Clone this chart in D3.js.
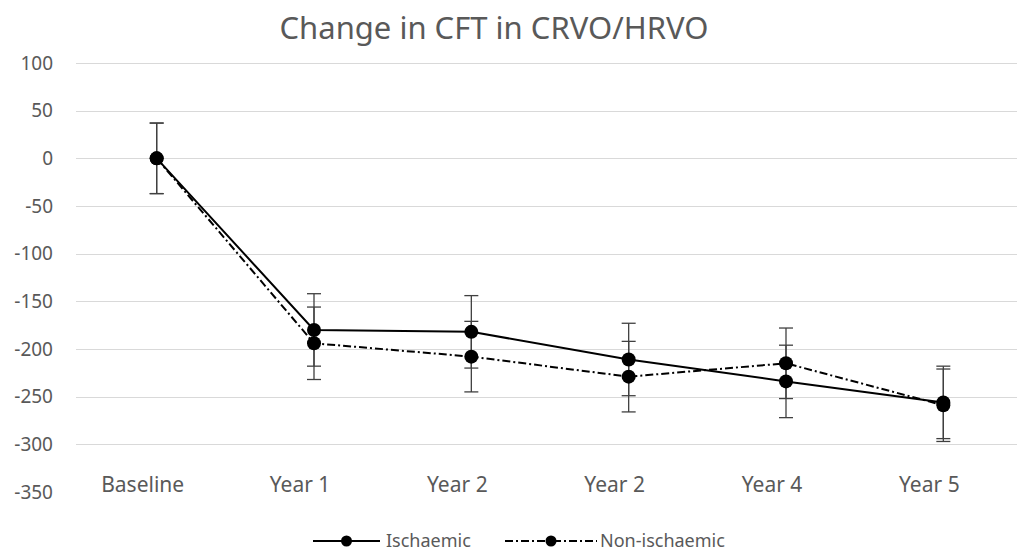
<!DOCTYPE html>
<meta charset="utf-8">
<style>
body { margin: 0; background: #fff; }
svg text { font-family: "Noto Sans", "Open Sans", sans-serif; fill: #595959; }
.grid line { stroke: #d9d9d9; stroke-width: 1; shape-rendering: crispEdges; }
</style>
<body>
<script src="https://cdn.jsdelivr.net/npm/d3@7/dist/d3.min.js"></script>
<script>

// categories and values
var categories = ["Baseline", "Year 1", "Year 2", "Year 2", "Year 4", "Year 5"];
var ischaemic = [0, -180, -182, -211, -234, -256];
var ischaemicErr = [37, 38, 38, 38, 38, 38];
var nonIschaemic = [0, -194, -208, -229, -215, -259];
var nonIschaemicErr = [37, 38, 37, 37, 37, 38];
var yTicks = [100, 50, 0, -50, -100, -150, -200, -250, -300, -350];

var width = 1017, height = 555;

var svg = d3.select("body").append("svg")
    .attr("width", width)
    .attr("height", height);

var x = d3.scaleBand()
    .domain(d3.range(categories.length))
    .range([78, 1022]);

var y = d3.scaleLinear()
    .domain([-350, 100])
    .range([492, 63]);

var cx = function(i) { return x(i) + x.bandwidth() / 2; };

// title
svg.append("text")
    .attr("x", 494)
    .attr("y", 39)
    .attr("text-anchor", "middle")
    .style("font-size", "31px")
    .text("Change in CFT in CRVO/HRVO");

// gridlines (none at the bottom value)
svg.append("g")
    .attr("class", "grid")
  .selectAll("line")
    .data(yTicks.filter(function(d) { return d > -350; }))
  .enter().append("line")
    .attr("x1", 76)
    .attr("x2", width)
    .attr("y1", function(d) { return Math.round(y(d)) + 0.5; })
    .attr("y2", function(d) { return Math.round(y(d)) + 0.5; });

// y axis labels, plain hyphen for negatives
var yAxis = d3.axisLeft(y)
    .tickValues(yTicks)
    .tickFormat(function(d) { return String(d); })
    .tickSize(0)
    .tickPadding(0);

var gy = svg.append("g")
    .attr("transform", "translate(53,0)")
    .call(yAxis);
gy.select(".domain").remove();
gy.selectAll("text")
    .style("font-size", "19px")
    .style("font-family", null)
    .attr("fill", null);

// x axis labels (sit a little left of the points in the original)
var xAxis = d3.axisBottom(x)
    .tickFormat(function(i) { return categories[i]; })
    .tickSize(0)
    .tickPadding(0);

var gx = svg.append("g")
    .attr("transform", "translate(-14,477)")
    .call(xAxis);
gx.select(".domain").remove();
gx.selectAll("text")
    .style("font-size", "21px")
    .style("font-family", null)
    .attr("fill", null);

var series = [
  {name: "Ischaemic", values: ischaemic, err: ischaemicErr, dash: null},
  {name: "Non-ischaemic", values: nonIschaemic, err: nonIschaemicErr, dash: "8,3,2,3"}
];

var line = d3.line()
    .x(function(d, i) { return cx(i); })
    .y(function(d) { return y(d); });

// error bars
series.forEach(function(s) {
  var g = svg.append("g")
      .attr("stroke", "#404040")
      .attr("stroke-width", 1.3);
  s.values.forEach(function(v, i) {
    var top = y(v + s.err[i]), bot = y(v - s.err[i]);
    g.append("line").attr("x1", cx(i)).attr("x2", cx(i)).attr("y1", top).attr("y2", bot);
    g.append("line").attr("x1", cx(i) - 7).attr("x2", cx(i) + 7).attr("y1", top).attr("y2", top);
    g.append("line").attr("x1", cx(i) - 7).attr("x2", cx(i) + 7).attr("y1", bot).attr("y2", bot);
  });
});

// lines and markers
series.forEach(function(s) {
  svg.append("path")
      .datum(s.values)
      .attr("fill", "none")
      .attr("stroke", "#000")
      .attr("stroke-width", 2)
      .attr("stroke-dasharray", s.dash)
      .attr("d", line);

  svg.append("g").selectAll("circle")
      .data(s.values)
    .enter().append("circle")
      .attr("cx", function(d, i) { return cx(i); })
      .attr("cy", function(d) { return y(d); })
      .attr("r", 7)
      .attr("fill", "#000");
});

// legend
var legendItems = [
  {name: "Ischaemic", dash: null, x1: 313, x2: 380, text: 386},
  {name: "Non-ischaemic", dash: "8,3,2,3", x1: 505, x2: 597, text: 600}
];

var legend = svg.append("g").attr("transform", "translate(0,541)");
legendItems.forEach(function(d) {
  legend.append("line")
      .attr("x1", d.x1).attr("x2", d.x2)
      .attr("stroke", "#000")
      .attr("stroke-width", 2)
      .attr("stroke-dasharray", d.dash);
  legend.append("circle")
      .attr("cx", (d.x1 + d.x2) / 2)
      .attr("r", 5.5)
      .attr("fill", "#000");
  legend.append("text")
      .attr("x", d.text)
      .attr("y", 6)
      .style("font-size", "18px")
      .text(d.name);
});

</script>
</body>
